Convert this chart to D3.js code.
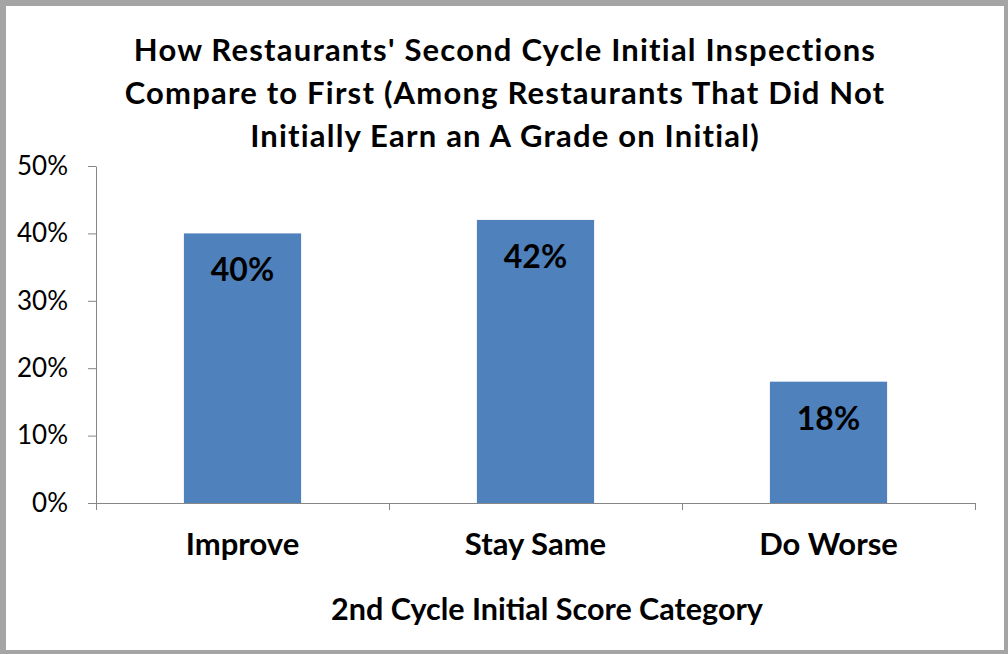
<!DOCTYPE html>
<html>
<head>
<meta charset="utf-8">
<script src="https://cdn.jsdelivr.net/npm/d3@7"></script>
<style>
  body { margin: 0; background: #fff; }
  svg { display: block; }
  text { font-family: Lato, "Open Sans", sans-serif; fill: #000; }
</style>
</head>
<body>
<script>
var categories = ["Improve", "Stay Same", "Do Worse"];
var shares = [0.40, 0.42, 0.18];
var yTicks = [0, 0.1, 0.2, 0.3, 0.4, 0.5];
var titleLines = [
  "How Restaurants' Second Cycle Initial Inspections",
  "Compare to First (Among Restaurants That Did Not",
  "Initially Earn an A Grade on Initial)"
];
var xTitle = "2nd Cycle Initial Score Category";

var dataset = categories.map(function(c, i) { return {cat: c, val: shares[i]}; });

var W = 1008, H = 654;
var plot = {left: 96, right: 975, top: 166, bottom: 503};

var svg = d3.select("body").append("svg")
    .attr("width", W)
    .attr("height", H);

// frame
svg.append("rect").attr("width", W).attr("height", H).attr("fill", "#a5a5a5");
svg.append("rect")
    .attr("x", 6).attr("y", 6)
    .attr("width", 998).attr("height", 644)
    .attr("fill", "#fff");

var xScale = d3.scaleBand()
    .domain(categories)
    .range([plot.left, plot.right])
    .paddingInner(0.6)
    .paddingOuter(0.3);

var yScale = d3.scaleLinear()
    .domain([0, 0.5])
    .range([plot.bottom, plot.top]);

// category boundaries for tick marks
var edgeScale = d3.scaleLinear()
    .domain([0, categories.length])
    .range([plot.left, plot.right]);

// title
svg.append("g").selectAll("text")
  .data(titleLines)
  .enter().append("text")
    .attr("x", 505)
    .attr("y", function(d, i) { return 61 + i * 43; })
    .attr("text-anchor", "middle")
    .attr("font-size", "31px")
    .attr("letter-spacing", "1.2px")
    .attr("font-weight", "bold")
    .text(function(d) { return d; });

// bars
svg.append("g").selectAll("rect")
  .data(dataset)
  .enter().append("rect")
    .attr("x", function(d) { return xScale(d.cat); })
    .attr("y", function(d) { return yScale(d.val); })
    .attr("width", xScale.bandwidth())
    .attr("height", function(d) { return yScale(0) - yScale(d.val); })
    .attr("fill", "#4f81bd");

// labels on bars
svg.append("g").selectAll("text")
  .data(dataset)
  .enter().append("text")
    .attr("x", function(d) { return xScale(d.cat) + xScale.bandwidth() / 2; })
    .attr("y", function(d) { return yScale(d.val) + 48; })
    .attr("text-anchor", "middle")
    .attr("font-size", "32px")
    .attr("font-weight", "bold")
    .text(function(d) { return d3.format(".0%")(d.val); });

// axis-y
var gy = svg.append("g")
    .attr("transform", "translate(" + plot.left + ",0)")
    .call(d3.axisLeft(yScale)
      .tickValues(yTicks)
      .tickFormat(d3.format(".0%"))
      .tickSizeInner(8)
      .tickSizeOuter(0)
      .tickPadding(20));
gy.selectAll("text")
    .attr("font-size", "26px")
    .style("font-family", "Lato, sans-serif")
    .attr("fill", "#000");

// axis-x: tick marks at category edges
var gx = svg.append("g")
    .attr("transform", "translate(0," + plot.bottom + ")")
    .call(d3.axisBottom(edgeScale)
      .tickValues(d3.range(categories.length + 1))
      .tickFormat("")
      .tickSizeInner(7)
      .tickSizeOuter(0));

// axis-x: category labels
var gxl = svg.append("g")
    .attr("transform", "translate(0," + plot.bottom + ")")
    .call(d3.axisBottom(xScale).tickSize(0).tickPadding(30));
gxl.select(".domain").remove();
gxl.selectAll("text")
    .attr("font-size", "31px")
    .attr("font-weight", "bold")
    .style("font-family", "Lato, sans-serif")
    .attr("fill", "#000");

svg.selectAll(".domain, .tick line").attr("stroke", "#868686");

// axis title
svg.append("text")
    .attr("x", 547)
    .attr("y", 620)
    .attr("text-anchor", "middle")
    .attr("font-size", "30.5px")
    .attr("font-weight", "bold")
    .text(xTitle);
</script>
</body>
</html>
